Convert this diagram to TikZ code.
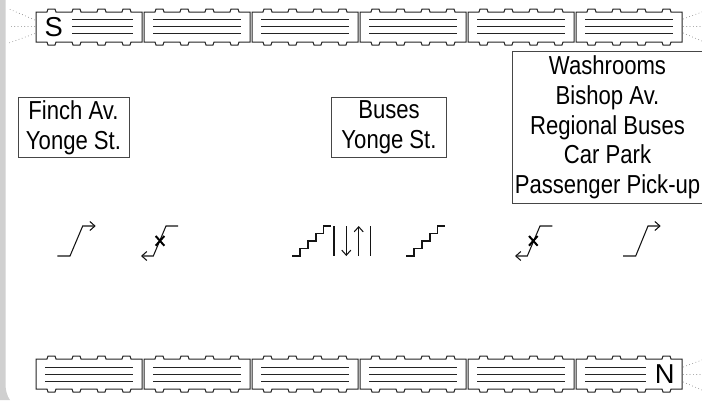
\documentclass[tikz,border=0pt]{standalone}
\usepackage{fontspec}
\newfontfamily\signfont[FakeStretch=0.85]{Liberation Sans}
\setmainfont{Liberation Sans}
\usetikzlibrary{arrows.meta}
\tikzset{
  carline/.style={color={rgb, 255:red, 35; green, 35; blue, 35 },line width=0.75pt},
  lamp/.style={color={rgb, 255:red, 130; green, 130; blue, 130 },line width=0.5pt,dotted},
  signbox/.style={draw={rgb, 255:red, 70; green, 70; blue, 70 },line width=0.6pt,inner sep=0pt,align=center,font=\signfont\fontsize{19.5}{22.3}\selectfont},
  carletter/.style={font=\fontsize{20.5}{23}\selectfont},
  stairline/.style={color={rgb, 255:red, 20; green, 20; blue, 20 },line width=0.8pt},
  stairarrow/.style={stairline,-{Straight Barb[length=3.8pt,width=6.8pt]}},
  blocked/.style={line width=1.5pt}
}
\newcommand{\traincar}[2]{%
\draw [carline] (#1,#2) -- ++(11,0) -- ++(1,-3) -- ++(7,0) -- ++(1,3) -- ++(16,0) -- ++(1,-3) -- ++(7,0) -- ++(1,3) -- ++(16,0) -- ++(1,-3) -- ++(7,0) -- ++(1,3) -- ++(16,0) -- ++(1,-3) -- ++(7,0) -- ++(1,3) -- ++(11,0) -- ++(0,30) -- ++(-11,0) -- ++(-1,3) -- ++(-7,0) -- ++(-1,-3) -- ++(-16,0) -- ++(-1,3) -- ++(-7,0) -- ++(-1,-3) -- ++(-16,0) -- ++(-1,3) -- ++(-7,0) -- ++(-1,-3) -- ++(-16,0) -- ++(-1,3) -- ++(-7,0) -- ++(-1,-3) -- ++(-11,0) -- cycle ;}
\begin{document}
\begin{tikzpicture}[x=0.75pt,y=0.75pt,yscale=-1,xscale=1]
\useasboundingbox (0,0) rectangle (702,400);

%Shape: Border
\fill [color={rgb, 255:red, 208; green, 208; blue, 208 }] (0,0) -- (5.5,0) -- (5.5,384) .. controls (5.5,390) and (7,396) .. (10,400) -- (0,400) -- cycle ;

%Shape: Cars north side
\traincar{36}{12}
\traincar{144}{12}
\traincar{252}{12}
\traincar{360}{12}
\traincar{468}{12}
\traincar{576}{12}
%Shape: Cars south side
\traincar{36}{359}
\traincar{144}{359}
\traincar{252}{359}
\traincar{360}{359}
\traincar{468}{359}
\traincar{576}{359}

%Straight Lines: top row
\draw [carline] (72,19.5) -- (133,19.5) (72,26.5) -- (133,26.5) (72,33.5) -- (133,33.5) ;
\draw [carline] (153,19.5) -- (241,19.5) (153,26.5) -- (241,26.5) (153,33.5) -- (241,33.5) ;
\draw [carline] (261,19.5) -- (349,19.5) (261,26.5) -- (349,26.5) (261,33.5) -- (349,33.5) ;
\draw [carline] (369,19.5) -- (457,19.5) (369,26.5) -- (457,26.5) (369,33.5) -- (457,33.5) ;
\draw [carline] (477,19.5) -- (565,19.5) (477,26.5) -- (565,26.5) (477,33.5) -- (565,33.5) ;
\draw [carline] (585,19.5) -- (673,19.5) (585,26.5) -- (673,26.5) (585,33.5) -- (673,33.5) ;
%Straight Lines: bottom row
\draw [carline] (45,367.5) -- (133,367.5) (45,374.5) -- (133,374.5) (45,381) -- (133,381) ;
\draw [carline] (153,367.5) -- (241,367.5) (153,374.5) -- (241,374.5) (153,381) -- (241,381) ;
\draw [carline] (261,367.5) -- (349,367.5) (261,374.5) -- (349,374.5) (261,381) -- (349,381) ;
\draw [carline] (369,367.5) -- (457,367.5) (369,374.5) -- (457,374.5) (369,381) -- (457,381) ;
\draw [carline] (477,367.5) -- (565,367.5) (477,374.5) -- (565,374.5) (477,381) -- (565,381) ;
\draw [carline] (585,367.5) -- (646,367.5) (585,374.5) -- (646,374.5) (585,381) -- (646,381) ;

%Straight Lines: lamps
\draw [lamp] (35,20) -- (9,9) (35,26.5) -- (9,26.5) (35,33.5) -- (9,43) ;
\draw [lamp] (683,19) -- (702,12) (683,26.5) -- (702,26.5) (683,33) -- (702,41) ;
\draw [lamp] (683,367) -- (702,360) (683,374.5) -- (702,374.5) (683,382) -- (702,390) ;

%Straight Lines: escalator up
\draw [stairarrow] (57.3,256) -- (70,256) -- (82.7,226) -- (95.7,226) ;
\draw [stairarrow] (178,226) -- (166,226) -- (153.3,256) -- (141,256) ;
\draw [blocked] (155.7,236) -- (164.3,245.7) (164.3,236) -- (155.7,245.7) ;
%Straight Lines: stairs
\draw [stairline] (292,256) -- (300,256) -- (300,248.5) -- (308,248.5) -- (308,241) -- (316,241) -- (316,233.5) -- (323.5,233.5) -- (323.5,226) -- (331,226) ;
\draw [stairline] (334,226) -- (334,256) ;
\draw [stairarrow] (346.3,226) -- (346.3,256) ;
\draw [stairarrow] (358.7,256) -- (358.7,226) ;
\draw [stairline] (370.7,226) -- (370.7,256) ;
\draw [stairline] (406,256) -- (414,256) -- (414,248.5) -- (422,248.5) -- (422,241) -- (430,241) -- (430,233.5) -- (437.5,233.5) -- (437.5,226) -- (445,226) ;
%Straight Lines: escalator
\draw [stairarrow] (552.3,226) -- (540,226) -- (527.3,256) -- (515,256) ;
\draw [blocked] (529,236) -- (537.6,245.7) (537.6,236) -- (529,245.7) ;
\draw [stairarrow] (623,256) -- (635.7,256) -- (648,226) -- (660.7,226) ;

% Text Node
\draw (53.7,26.7) node [carletter] (south) {S};
% Text Node
\draw (664.7,374) node [carletter] (north) {N};
% Text Node
\draw (73.5,127.5) node [signbox,minimum width=111*0.75pt,minimum height=60.5*0.75pt] (finch) {Finch Av.\\Yonge St.};
% Text Node
\draw (389,127.5) node [signbox,minimum width=115*0.75pt,minimum height=60.5*0.75pt] (buses) {Buses\\Yonge St.};
% Text Node
\draw (607.5,127.5) node [signbox,minimum width=191*0.75pt,minimum height=151.5*0.75pt] (exits) {Washrooms\\Bishop Av.\\Regional Buses\\Car Park\\Passenger Pick-up};

\end{tikzpicture}
\end{document}
